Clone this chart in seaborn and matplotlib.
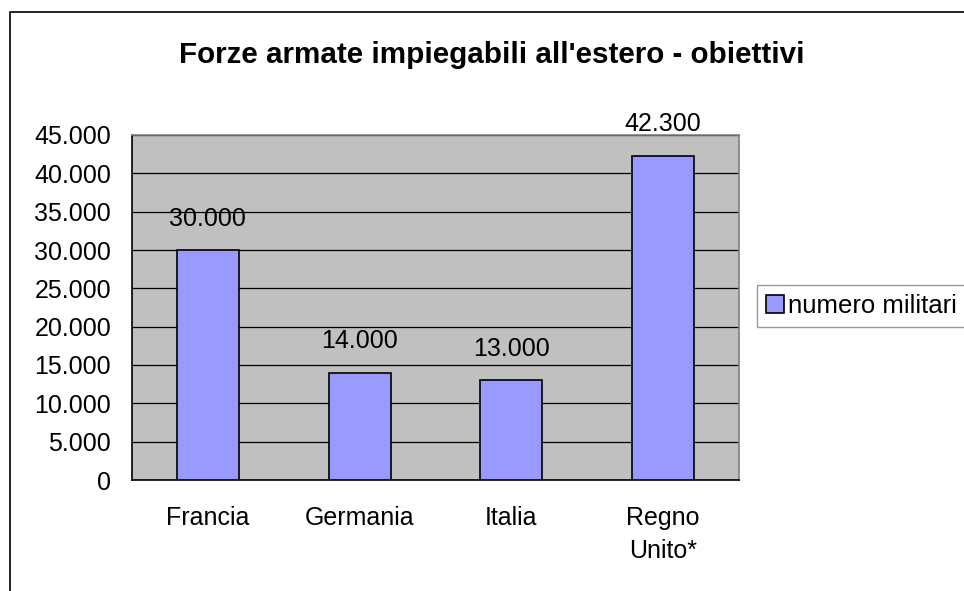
"""
Forze armate impiegabili all'estero - bar chart in Excel style.
"""

import matplotlib
matplotlib.use("Agg")
import matplotlib.pyplot as plt
from matplotlib.patches import Patch, Rectangle
from matplotlib.ticker import FuncFormatter, MultipleLocator
import seaborn as sns
import pandas as pd

# Data
paesi = ["Francia", "Germania", "Italia", "Regno\nUnito*"]
militari = [30000, 14000, 13000, 42300]
serie = "numero militari"
titolo = "Forze armate impiegabili all'estero - obiettivi"

sns.set_style("white")
plt.rcParams["font.family"] = ["Liberation Sans", "DejaVu Sans"]
plt.rcParams["text.color"] = "black"
plt.rcParams["xtick.color"] = "black"
plt.rcParams["ytick.color"] = "black"
plt.rcParams["axes.labelcolor"] = "black"

BAR_COLOR = "#9999FF"
PLOT_BG = "#C0C0C0"


def fmt_it(v, pos=None):
    """Italian thousands separator."""
    return f"{int(round(v)):,}".replace(",", ".")


df = pd.DataFrame({"paese": paesi, "militari": militari})

fig = plt.figure(figsize=(9.64, 5.91), dpi=100)
ax = fig.add_axes([132 / 964, 1 - 480 / 591, (739 - 132) / 964, (480 - 135) / 591])

sns.barplot(data=df, x="paese", y="militari", color=BAR_COLOR,
            edgecolor="black", linewidth=1.2, width=0.41, saturation=1,
            ax=ax, zorder=3)

ax.set_facecolor(PLOT_BG)
ax.set_ylim(0, 45000)
ax.set_xlim(-0.5, len(paesi) - 0.5)
ax.yaxis.set_major_locator(MultipleLocator(5000))
ax.yaxis.set_major_formatter(FuncFormatter(fmt_it))
ax.grid(axis="y", color="black", linewidth=0.9, zorder=1)
ax.set_axisbelow(True)
ax.set_xlabel("")
ax.set_ylabel("")

# x ticks at category boundaries, labels centred
ax.set_xticks([i - 0.5 for i in range(len(paesi) + 1)], minor=False)
ax.set_xticklabels([])
ax.set_xticks(range(len(paesi)), minor=True)
ax.set_xticklabels(paesi, minor=True, fontsize=18, linespacing=1.45)
ax.tick_params(axis="x", which="major", direction="out", length=8, width=1, color="black")
ax.tick_params(axis="x", which="minor", length=0, pad=19)
ax.tick_params(axis="y", direction="out", length=8, width=1, color="black",
               labelsize=18, pad=7)

for side in ["left", "bottom"]:
    ax.spines[side].set_color("black")
    ax.spines[side].set_linewidth(1.2)
for side in ["top", "right"]:
    ax.spines[side].set_color("#808080")
    ax.spines[side].set_linewidth(1.2)

# Value labels above the bars
for i, v in enumerate(militari):
    ax.annotate(fmt_it(v), (i, v), xytext=(0, 14), textcoords="offset points",
                ha="center", va="bottom", fontsize=18, zorder=4)

fig.text(0.51, 1 - 55 / 591, titolo, ha="center", va="center",
         fontsize=21.3, fontweight="bold")

handle = Patch(facecolor=BAR_COLOR, edgecolor="black", linewidth=1.2)
leg = fig.legend([handle], [serie], loc="center left",
                 bbox_to_anchor=(757 / 964, 1 - 306 / 591), fontsize=18.5,
                 frameon=True, fancybox=False, handlelength=0.7, handleheight=0.7,
                 handletextpad=0.15, borderpad=0.35, borderaxespad=0)
leg.get_frame().set_edgecolor("#808080")
leg.get_frame().set_linewidth(1)

# Chart area border (extends past the right/bottom edges)
fig.patches.append(Rectangle((10 / 964, -0.1), 1.2, 1.1 - 12 / 591,
                             transform=fig.transFigure, fill=False,
                             edgecolor="black", linewidth=1.2))

fig.savefig("out.png", dpi=100)
